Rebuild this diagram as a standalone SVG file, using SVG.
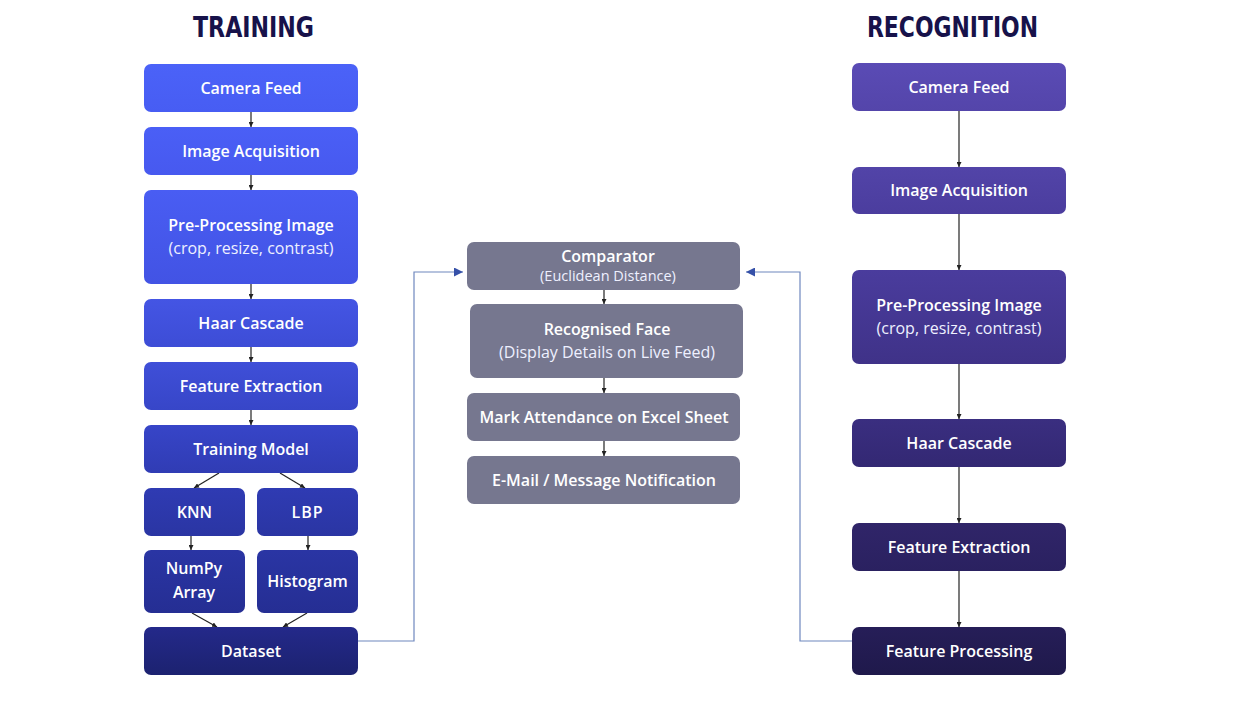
<svg xmlns="http://www.w3.org/2000/svg" width="1257" height="703" viewBox="0 0 1257 703">
<defs>
<linearGradient id="t1" x1="0" y1="0" x2="0" y2="1"><stop offset="0" stop-color="#4B62F8"/><stop offset="1" stop-color="#475DF3"/></linearGradient>
<linearGradient id="t2" x1="0" y1="0" x2="0" y2="1"><stop offset="0" stop-color="#4A5FF6"/><stop offset="1" stop-color="#4759EF"/></linearGradient>
<linearGradient id="t3" x1="0" y1="0" x2="0" y2="1"><stop offset="0" stop-color="#495DF3"/><stop offset="1" stop-color="#4253E4"/></linearGradient>
<linearGradient id="t4" x1="0" y1="0" x2="0" y2="1"><stop offset="0" stop-color="#4455E4"/><stop offset="1" stop-color="#3D4DD6"/></linearGradient>
<linearGradient id="t5" x1="0" y1="0" x2="0" y2="1"><stop offset="0" stop-color="#3F4FD8"/><stop offset="1" stop-color="#3746C8"/></linearGradient>
<linearGradient id="t6" x1="0" y1="0" x2="0" y2="1"><stop offset="0" stop-color="#3745C8"/><stop offset="1" stop-color="#303CB4"/></linearGradient>
<linearGradient id="t7" x1="0" y1="0" x2="0" y2="1"><stop offset="0" stop-color="#2F3BB3"/><stop offset="1" stop-color="#2A35A3"/></linearGradient>
<linearGradient id="t8" x1="0" y1="0" x2="0" y2="1"><stop offset="0" stop-color="#2A35A4"/><stop offset="1" stop-color="#252E93"/></linearGradient>
<linearGradient id="t9" x1="0" y1="0" x2="0" y2="1"><stop offset="0" stop-color="#24298A"/><stop offset="1" stop-color="#1C2270"/></linearGradient>
<linearGradient id="r1" x1="0" y1="0" x2="0" y2="1"><stop offset="0" stop-color="#5A4BB5"/><stop offset="1" stop-color="#5445AA"/></linearGradient>
<linearGradient id="r2" x1="0" y1="0" x2="0" y2="1"><stop offset="0" stop-color="#5244A8"/><stop offset="1" stop-color="#4B3D9E"/></linearGradient>
<linearGradient id="r3" x1="0" y1="0" x2="0" y2="1"><stop offset="0" stop-color="#4A3C9D"/><stop offset="1" stop-color="#3F3288"/></linearGradient>
<linearGradient id="r4" x1="0" y1="0" x2="0" y2="1"><stop offset="0" stop-color="#3A2E80"/><stop offset="1" stop-color="#332873"/></linearGradient>
<linearGradient id="r5" x1="0" y1="0" x2="0" y2="1"><stop offset="0" stop-color="#302569"/><stop offset="1" stop-color="#2A2160"/></linearGradient>
<linearGradient id="r6" x1="0" y1="0" x2="0" y2="1"><stop offset="0" stop-color="#261E58"/><stop offset="1" stop-color="#1F194B"/></linearGradient>
<marker id="ab" viewBox="0 0 8 8" refX="8" refY="4" markerWidth="5" markerHeight="5" markerUnits="userSpaceOnUse" orient="auto"><path d="M0,0 L8,4 L0,8 z" fill="#222"/></marker>
<marker id="au" viewBox="0 0 10 10" refX="10" refY="5" markerWidth="9" markerHeight="9" markerUnits="userSpaceOnUse" orient="auto"><path d="M0,0 L10,5 L0,10 z" fill="#3550A8"/></marker>
<style>
.t{font-family:"Open Sans","Noto Sans","Liberation Sans",sans-serif;font-weight:600;font-size:16px;fill:#fff;text-anchor:middle}
.s{font-family:"Open Sans","Noto Sans","Liberation Sans",sans-serif;font-weight:400;font-size:16px;fill:#eef0ff;text-anchor:middle}
.ss{font-family:"Open Sans","Noto Sans","Liberation Sans",sans-serif;font-weight:400;font-size:14.5px;fill:#eef0ff;text-anchor:middle}
.h{font-family:"DejaVu Sans","Liberation Sans",sans-serif;font-weight:bold;font-stretch:condensed;font-size:29px;fill:#17124A;text-anchor:middle}
.c{fill:none;stroke:#222;stroke-width:1.2;marker-end:url(#ab)}
.f{fill:none;stroke:#6F88BE;stroke-width:1.2;marker-end:url(#au)}
.m{fill:#76778F}
</style>
</defs>
<rect width="1257" height="703" fill="#fff"/>
<text class="h" x="253.5" y="37" textLength="121" lengthAdjust="spacingAndGlyphs">TRAINING</text>
<text class="h" x="952.5" y="37" textLength="171" lengthAdjust="spacingAndGlyphs">RECOGNITION</text>

<g id="connectors">
<line class="c" x1="251" y1="112" x2="251" y2="127"/>
<line class="c" x1="251" y1="175" x2="251" y2="190"/>
<line class="c" x1="251" y1="284" x2="251" y2="299"/>
<line class="c" x1="251" y1="347" x2="251" y2="362"/>
<line class="c" x1="251" y1="410" x2="251" y2="425"/>
<line class="c" x1="219" y1="473" x2="194" y2="488"/>
<line class="c" x1="280" y1="473" x2="305" y2="488"/>
<line class="c" x1="191" y1="536" x2="191" y2="550"/>
<line class="c" x1="308" y1="536" x2="308" y2="550"/>
<line class="c" x1="192" y1="613" x2="217" y2="627"/>
<line class="c" x1="307" y1="613" x2="283" y2="627"/>
<line class="c" x1="604" y1="290" x2="604" y2="304"/>
<line class="c" x1="604" y1="378" x2="604" y2="393"/>
<line class="c" x1="604" y1="441" x2="604" y2="456"/>
<line class="c" x1="959" y1="111" x2="959" y2="167"/>
<line class="c" x1="959" y1="214" x2="959" y2="270"/>
<line class="c" x1="959" y1="364" x2="959" y2="419"/>
<line class="c" x1="959" y1="467" x2="959" y2="523"/>
<line class="c" x1="959" y1="571" x2="959" y2="627"/>
<path class="f" d="M358,641 H414 V272 H463"/>
<path class="f" d="M852,641 H800 V272 H746"/>
</g>

<g id="t-camera"><rect x="144" y="64" width="214" height="48" rx="7" fill="url(#t1)"/><text class="t" x="251" y="94">Camera Feed</text></g>
<g id="t-acq"><rect x="144" y="127" width="214" height="48" rx="7" fill="url(#t2)"/><text class="t" x="251" y="157">Image Acquisition</text></g>
<g id="t-pre"><rect x="144" y="190" width="214" height="94" rx="7" fill="url(#t3)"/><text class="t" x="251" y="231">Pre-Processing Image</text><text class="s" x="251" y="254">(crop, resize, contrast)</text></g>
<g id="t-haar"><rect x="144" y="299" width="214" height="48" rx="7" fill="url(#t4)"/><text class="t" x="251" y="329">Haar Cascade</text></g>
<g id="t-feat"><rect x="144" y="362" width="214" height="48" rx="7" fill="url(#t5)"/><text class="t" x="251" y="392">Feature Extraction</text></g>
<g id="t-model"><rect x="144" y="425" width="214" height="48" rx="7" fill="url(#t6)"/><text class="t" x="251" y="455">Training Model</text></g>
<g id="t-knn"><rect x="144" y="488" width="101" height="48" rx="7" fill="url(#t7)"/><text class="t" x="194.5" y="518">KNN</text></g>
<g id="t-lbp"><rect x="257" y="488" width="101" height="48" rx="7" fill="url(#t7)"/><text class="t" x="307.5" y="518" letter-spacing="1">LBP</text></g>
<g id="t-numpy"><rect x="144" y="550" width="101" height="63" rx="7" fill="url(#t8)"/><text class="t" x="194" y="574">NumPy</text><text class="t" x="194" y="598">Array</text></g>
<g id="t-hist"><rect x="257" y="550" width="101" height="63" rx="7" fill="url(#t8)"/><text class="t" x="307.5" y="587">Histogram</text></g>
<g id="t-dataset"><rect x="144" y="627" width="214" height="48" rx="7" fill="url(#t9)"/><text class="t" x="251" y="657">Dataset</text></g>

<g id="m-comp"><rect class="m" x="467" y="242" width="273" height="48" rx="7"/><text class="t" x="608" y="262">Comparator</text><text class="ss" x="608" y="281">(Euclidean Distance)</text></g>
<g id="m-face"><rect class="m" x="470" y="304" width="273" height="74" rx="7"/><text class="t" x="607" y="335">Recognised Face</text><text class="s" x="607" y="358">(Display Details on Live Feed)</text></g>
<g id="m-mark"><rect class="m" x="467" y="393" width="273" height="48" rx="7"/><text class="t" x="604" y="423">Mark Attendance on Excel Sheet</text></g>
<g id="m-mail"><rect class="m" x="467" y="456" width="273" height="48" rx="7"/><text class="t" x="604" y="486">E-Mail / Message Notification</text></g>

<g id="r-camera"><rect x="852" y="63" width="214" height="48" rx="7" fill="url(#r1)"/><text class="t" x="959" y="93">Camera Feed</text></g>
<g id="r-acq"><rect x="852" y="167" width="214" height="47" rx="7" fill="url(#r2)"/><text class="t" x="959" y="196">Image Acquisition</text></g>
<g id="r-pre"><rect x="852" y="270" width="214" height="94" rx="7" fill="url(#r3)"/><text class="t" x="959" y="311">Pre-Processing Image</text><text class="s" x="959" y="334">(crop, resize, contrast)</text></g>
<g id="r-haar"><rect x="852" y="419" width="214" height="48" rx="7" fill="url(#r4)"/><text class="t" x="959" y="449">Haar Cascade</text></g>
<g id="r-feat"><rect x="852" y="523" width="214" height="48" rx="7" fill="url(#r5)"/><text class="t" x="959" y="553">Feature Extraction</text></g>
<g id="r-proc"><rect x="852" y="627" width="214" height="48" rx="7" fill="url(#r6)"/><text class="t" x="959" y="657">Feature Processing</text></g>
</svg>
